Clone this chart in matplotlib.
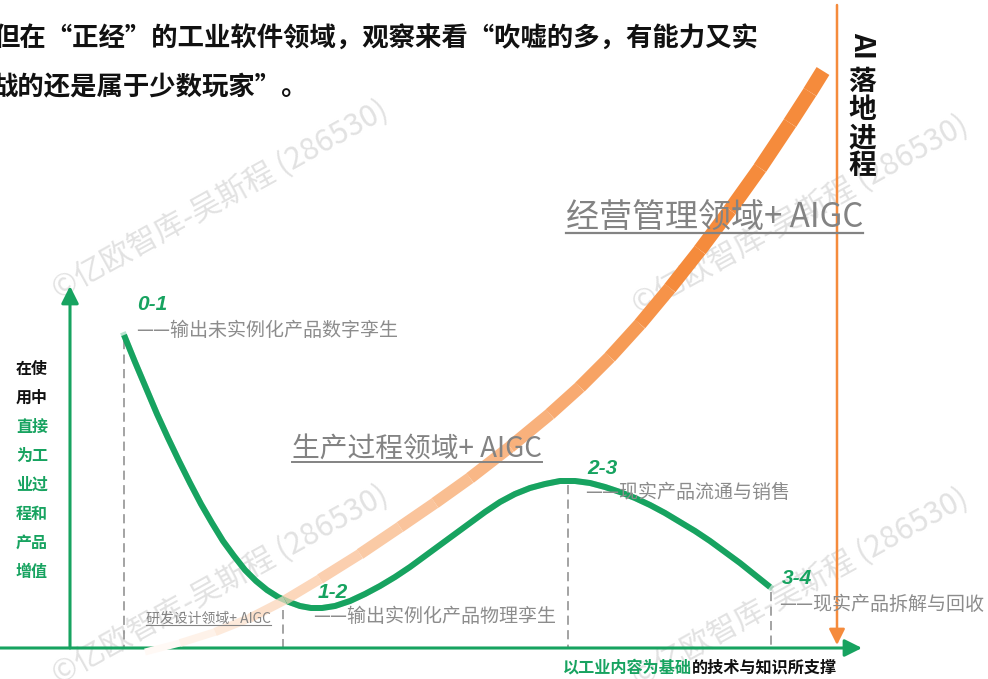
import matplotlib.pyplot as plt
import numpy as np
from matplotlib.collections import LineCollection
from matplotlib.colors import to_rgb

plt.rcParams['font.family'] = ['Noto Sans CJK SC', 'DejaVu Sans']

GREEN = '#17A360'
ORANGE = '#F58B3C'
GREY = '#838383'

# 工业产品价值曲线 (读图所得, 像素坐标)
curve_x = [124, 135, 146, 157, 168, 179, 190, 201, 212, 223, 234, 245, 256, 267,
           278, 289, 300, 311, 322, 335, 350, 365, 380, 395, 410, 425, 440, 455,
           470, 485, 500, 515, 530, 545, 560, 575, 590, 605, 620, 635, 650, 665,
           680, 695, 710, 725, 740, 755, 770]
curve_y = [335, 362, 388, 414, 438, 461, 483, 504, 523, 541, 556, 570, 581, 590,
           597, 602, 606, 608, 608, 606, 601, 594, 586, 577, 567, 556, 545, 534,
           523, 512, 502, 494, 488, 484, 481, 481, 483, 487, 492, 498, 505, 513,
           522, 531, 541, 552, 563, 575, 587]

# AI 落地进程带
band_x = [145, 180, 215, 250, 285, 320, 360, 400, 435, 470, 510, 550, 580, 610,
          640, 670, 700, 730, 760, 790, 810, 823]
band_y = [652, 643, 632, 618, 600, 579, 554, 527, 503, 478, 447, 414, 387, 357,
          324, 288, 250, 210, 168, 123, 92, 71]

# 阶段
stage_x = [124, 283, 568, 771]
stage_top = [340, 610, 485, 592]
stage_names = ['0-1', '1-2', '2-3', '3-4']
stage_desc = ['——输出未实例化产品数字孪生', '——输出实例化产品物理孪生',
              '——现实产品流通与销售', '——现实产品拆解与回收']

# 领域 + AIGC
domain_names = ['经营管理领域+ AIGC', '生产过程领域+ AIGC', '研发设计领域+ AIGC']

headline = ['但在“正经”的工业软件领域，观察来看“吹嘘的多，有能力又实',
            '战的还是属于少数玩家”。']
y_label_black = ['在使', '用中']
y_label_green = ['直接', '为工', '业过', '程和', '产品', '增值']
x_label = ['以工业内容为基础', '的技术与知识所支撑']
ai_title = ['落', '地', '进', '程']
watermark = '©亿欧智库-吴斯程 (286530)'

fig = plt.figure(figsize=(9.88, 6.79), dpi=100)
ax = fig.add_axes([0, 0, 1, 1])
ax.set_xlim(0, 988)
ax.set_ylim(679, 0)
ax.axis('off')

# 水印
for wx, wy in [(220, 200), (220, 585), (800, 215), (800, 588)]:
    ax.text(wx, wy, watermark, rotation=29, ha='center', va='center',
            fontsize=22, weight='light', color='#D8D8D8', alpha=0.75, zorder=0)

# 虚线
for sx, st in zip(stage_x, stage_top):
    ax.plot([sx, sx], [st, 648], color='#8A8A8A', lw=1.1, ls=(0, (6, 3.5)), zorder=1)

# 坐标轴箭头
arr = dict(arrowstyle='-|>', color=GREEN, lw=2.2, mutation_scale=26,
           shrinkA=0, shrinkB=0)
ax.annotate('', xy=(70, 286), xytext=(70, 648), arrowprops=arr, zorder=2)
ax.annotate('', xy=(862, 648), xytext=(0, 648), arrowprops=arr, zorder=2)
ax.annotate('', xy=(837, 645), xytext=(837, 5),
            arrowprops=dict(arrowstyle='-|>', color=ORANGE, lw=1.8,
                            mutation_scale=24, shrinkA=0, shrinkB=0), zorder=2)

# 绿色价值曲线
ax.plot(curve_x, curve_y, color=GREEN, lw=4.3, solid_capstyle='butt',
        solid_joinstyle='round', zorder=3)

# 橙色渐变带
pts = np.column_stack([band_x, band_y])
segs = np.stack([pts[:-1], pts[1:]], axis=1)
n = len(segs)
t = np.arange(n) / (n - 1)
alpha = np.interp(t, [0, 0.08, 0.22, 0.36, 0.56, 0.66, 0.75, 1],
                  [0.05, 0.15, 0.38, 0.52, 0.74, 0.88, 1, 1])
orange = np.array(to_rgb(ORANGE))
cols = [1 - a * (1 - orange) for a in alpha]
widths = np.interp(t, [0, 0.3, 1], [5, 8.2, 10.8])
ax.add_collection(LineCollection(segs, colors=cols, linewidths=widths,
                                 capstyle='butt', joinstyle='round', zorder=4))
# 交叉处绿色隐约透出
ax.plot(curve_x, curve_y, color=GREEN, lw=4.3, alpha=0.3, zorder=5)

# 阶段标签
name_pos = [(137, 305), (318, 592), (587, 468), (782, 578)]
desc_pos = [(136, 331), (313, 616), (585, 492), (779, 604)]
for name, (nx, ny) in zip(stage_names, name_pos):
    ax.text(nx, ny, name, family='Liberation Sans', weight='bold', style='italic',
            fontsize=15, color=GREEN, va='center', ha='left', zorder=6)
for desc, (dx, dy) in zip(stage_desc, desc_pos):
    ax.text(dx, dy, desc, fontsize=13.7, color='#8C8C8C', va='center', ha='left',
            zorder=6)

fig.canvas.draw()
inv = ax.transData.inverted()


def underline(txt, lw, pad=0):
    bb = txt.get_window_extent()
    (x0, y0), (x1, _) = inv.transform([(bb.x0, bb.y0 + pad), (bb.x1, bb.y0 + pad)])
    ax.plot([x0, x1], [y0, y0], color=txt.get_color(), lw=lw, zorder=6)


dom_pos = [(566, 218), (292, 449), (146, 619)]
dom_size = [23.8, 20, 10]
dom_lw = [1.6, 1.4, 0.8]
for name, (px, py), fs, lw in zip(domain_names, dom_pos, dom_size, dom_lw):
    tt = ax.text(px, py, name, fontsize=fs, color=GREY, weight='light',
                 va='center', ha='left', zorder=6)
    fig.canvas.draw()
    underline(tt, lw, pad=fs * 0.12)

# 顶部文字
for i, line in enumerate(headline):
    ax.text([-6, -9][i], 39 + 49 * i, line, fontsize=19, weight='bold',
            color='#111111', va='center', ha='left')

# 纵轴说明
ylab = y_label_black + y_label_green
for i, s in enumerate(ylab):
    ax.text(16, 369 + 29 * i, s, fontsize=11.5, weight='bold',
            color='#111111' if i < 2 else GREEN, va='center', ha='left')

# 横轴说明
t1 = ax.text(563, 668, x_label[0], fontsize=11.6, weight='bold', color=GREEN,
             va='center', ha='left')
fig.canvas.draw()
bb = t1.get_window_extent()
xe = inv.transform([(bb.x1, bb.y0)])[0][0]
ax.text(xe, 668, x_label[1], fontsize=11.6, weight='bold', color='#111111',
        va='center', ha='left')

# AI 落地进程
ax.text(862, 46, 'AI', fontsize=20, weight='bold', color='#111111',
        rotation=-90, ha='center', va='center')
for i, ch in enumerate(ai_title):
    ax.text(862, 82 + 28 * i, ch, fontsize=20, weight='bold', color='#111111',
            ha='center', va='center')

fig.savefig('out.png', dpi=100)
